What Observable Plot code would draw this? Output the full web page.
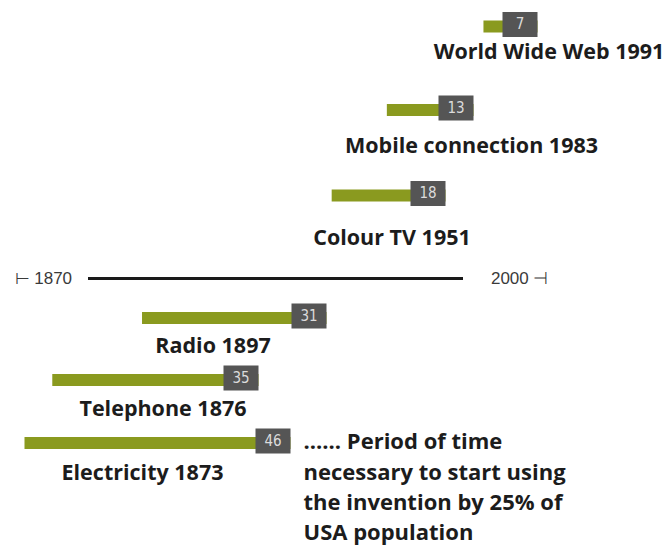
<!DOCTYPE html>
<html>
<head>
<meta charset="utf-8">
<script src="https://cdn.jsdelivr.net/npm/d3@7"></script>
<script src="https://cdn.jsdelivr.net/npm/@observablehq/plot@0.6"></script>
<style>
  html, body { margin: 0; padding: 0; background: #fff; overflow: hidden; }
  #chart { position: relative; width: 672px; height: 546px; }
  #chart > svg { position: absolute; left: 0; top: 0; }
</style>
</head>
<body>
<div id="chart"></div>
<script>
// ---- data ----
const inventions = ["World Wide Web", "Mobile connection", "Colour TV", "Radio", "Telephone", "Electricity"];
const years = [1991, 1983, 1951, 1897, 1876, 1873];
// years needed until 25% of the USA population used the invention
const periods = [7, 13, 18, 31, 35, 46];
const timelineYears = [1870, 2000];
const noteLines = ["...... Period of time", "necessary to start using", "the invention by 25% of", "USA population"];

const rows = inventions.map((name, i) => ({
  name,
  year: years[i],
  period: periods[i],
  reached: years[i] + periods[i],
  label: `${name} ${years[i]}`
}));
const axisRow = (years[2] + years[3]) / 2; // the timeline sits between the 1951 and 1897 rows

// ---- layout (the infographic's hand-made, piecewise positioning) ----
const green = "#8a9a1f";
const boxGray = "#555555";
const textColor = "#1c1c1c";
const labelFont = "'Open Sans', 'Noto Sans', sans-serif";
const barShape = { draw(context, l) { context.moveTo(0, 0); context.lineTo(0, -l); } };

const barsX = { // year the 25% share was reached -> right end of the bar
  type: "linear",
  domain: [timelineYears[0], 1911, 1919, 1928, 1969, 1996, 1998, timelineYears[1]],
  range: [14, 258, 290, 326, 445, 473, 537, 548]
};
const barsY = {
  type: "linear",
  domain: [1991, 1983, 1951, axisRow, 1897, 1876, 1873],
  range: [24, 107.5, 193, 278, 315.5, 377.5, 440.5]
};
const labelsX = {
  type: "linear",
  domain: [1873, 1876, 1897, 1951, 1983, 1991],
  range: [142, 162.5, 212.5, 391.5, 471, 548.5]
};
const labelsY = {
  type: "linear",
  domain: [1991, 1983, 1951, 1897, 1876, 1873],
  range: [52, 146, 238, 346, 409, 473]
};

const bars = Plot.plot({
  width: 672,
  height: 546,
  margin: 0,
  style: { background: "transparent", fontFamily: labelFont },
  x: { ...barsX, axis: null },
  y: { ...barsY, axis: null },
  length: { domain: [0, 46], range: [16, 266] },
  marks: [
    // timeline
    Plot.ruleY([axisRow], { x1: timelineYears[0], x2: timelineYears[1], insetLeft: 74, insetRight: 85, stroke: "#1a1a1a", strokeWidth: 3 }),
    Plot.text([timelineYears[0]], { x: d => d, y: axisRow, text: d => `⊢ ${d}`, textAnchor: "start", fontSize: 17, fill: "#3a3a3a", fontFamily: "'Liberation Sans', sans-serif" }),
    Plot.text([timelineYears[1]], { x: d => d, y: axisRow, text: d => `${d} ⊣`, textAnchor: "end", fontSize: 17, fill: "#3a3a3a", fontFamily: "'Liberation Sans', sans-serif" }),
    // green bars: length proportional to the period, ending where the box sits
    Plot.vector(rows, { x: "reached", y: "year", length: "period", rotate: 270, anchor: "start", shape: barShape, stroke: green, strokeWidth: 12, strokeLinecap: "butt", dy: 2 }),
    // grey number boxes
    Plot.vector(rows, { x: "reached", y: "year", length: 35, rotate: 270, anchor: "start", shape: barShape, stroke: boxGray, strokeWidth: 25, strokeLinecap: "butt" }),
    Plot.text(rows, { x: "reached", y: "year", text: d => String(d.period), dx: -17.5, fill: "#dcdcdc", fontSize: 15, fontFamily: "'DejaVu Sans Condensed', 'Liberation Sans Narrow', sans-serif" }),
    // explanatory note next to the Electricity box
    Plot.text([noteLines.join("\n")], { x: rows[5].reached, y: rows[5].year, text: d => d, textAnchor: "start", lineAnchor: "top", lineHeight: 1.37, dx: 13, dy: -13, fontSize: 22, fontWeight: "bold", fill: textColor })
  ]
});

const labels = Plot.plot({
  width: 672,
  height: 546,
  margin: 0,
  style: { background: "transparent", fontFamily: labelFont },
  x: { ...labelsX, axis: null },
  y: { ...labelsY, axis: null },
  marks: [
    Plot.text(rows, { x: "year", y: "year", text: "label", fontSize: 21.5, fontWeight: "bold", fill: textColor })
  ]
});

const chart = document.getElementById("chart");
chart.append(bars, labels);
</script>
</body>
</html>
